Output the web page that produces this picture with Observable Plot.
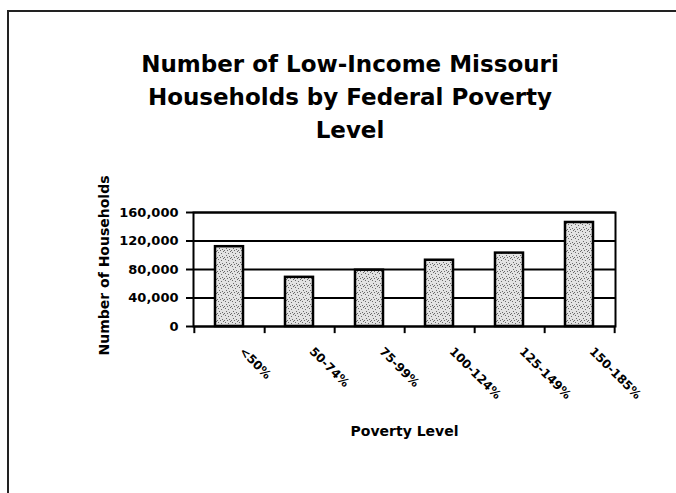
<!DOCTYPE html>
<html>
<head>
<meta charset="utf-8">
<script src="https://cdn.jsdelivr.net/npm/d3@7"></script>
<script src="https://cdn.jsdelivr.net/npm/@observablehq/plot@0.6"></script>
<style>
  html, body { margin: 0; padding: 0; background: #fff; }
  #wrap { position: relative; width: 676px; height: 493px; overflow: hidden; background: #fff; font-family: "DejaVu Sans", sans-serif; }
  #border { position: absolute; left: 7px; top: 10px; width: 700px; height: 500px; border-left: 2px solid #222; border-top: 2px solid #222; }
  #title { position: absolute; left: 0; top: 48px; width: 700px; text-align: center; font-weight: bold; font-size: 23px; line-height: 33px; color: #000; }
  #chart { position: absolute; left: 0; top: 160px; }
</style>
</head>
<body>
<div id="wrap">
  <div id="border"></div>
  <div id="title">Number of Low-Income Missouri<br>Households by Federal Poverty<br>Level</div>
  <div id="chart"></div>
</div>
<script>
const categories = ["<50%", "50-74%", "75-99%", "100-124%", "125-149%", "150-185%"];
const households = [112000, 69000, 79000, 93000, 103000, 146000];
const yTicks = [0, 40000, 80000, 120000, 160000];
const yLabel = "Number of Households";
const xLabel = "Poverty Level";

const data = categories.map((c, i) => ({category: c, value: households[i]}));

const W = 676, H = 300, mL = 193, mR = 61, mT = 52, mB = 134;
const half = (W - mL - mR) / categories.length / 2;

const plot = Plot.plot({
  width: W,
  height: H,
  marginLeft: mL,
  marginRight: mR,
  marginTop: mT,
  marginBottom: mB,
  style: {fontFamily: "DejaVu Sans", fontWeight: "bold", color: "#000", background: "transparent", overflow: "visible"},
  x: {domain: categories, paddingInner: 0.6, paddingOuter: 0.3, axis: null},
  y: {domain: [0, 160000], axis: null},
  marks: [
    Plot.ruleY(yTicks, {stroke: "#000", strokeWidth: 2}),
    Plot.frame({stroke: "#000", strokeWidth: 2}),
    Plot.ruleX(categories, {x: d => d, y1: 0, y2: -10000, dx: half, stroke: "#000", strokeWidth: 2}),
    Plot.ruleX([categories[0]], {x: d => d, y1: 0, y2: -10000, dx: -half, stroke: "#000", strokeWidth: 2}),
    Plot.axisY({ticks: yTicks, tickSize: 7, tickPadding: 8, tickFormat: d3.format(","), fontSize: 13, fontWeight: "bold", label: null, strokeWidth: 2, stroke: "#000"}),
    Plot.barY(data, {x: "category", y: "value", fill: "#d8d8d8", stroke: "#000", strokeWidth: 2.5}),
    Plot.text(categories, {x: d => d, frameAnchor: "bottom", rotate: 45, textAnchor: "start", lineAnchor: "middle", dx: 12, dy: 23, fontSize: 12, fontWeight: "bold", fill: "#000"}),
    Plot.text([yLabel], {frameAnchor: "left", rotate: -90, textAnchor: "middle", lineAnchor: "middle", dx: -89, dy: -4, fontSize: 14, fontWeight: "bold", fill: "#000"}),
    Plot.text([xLabel], {frameAnchor: "bottom", textAnchor: "middle", lineAnchor: "bottom", dy: 109, fontSize: 14, fontWeight: "bold", fill: "#000"})
  ]
});
document.getElementById("chart").appendChild(plot);

// stipple texture for bars
const svg = d3.select(plot);
const defs = svg.insert("defs", ":first-child");
const pat = defs.append("pattern").attr("id", "stipple").attr("width", 7).attr("height", 7).attr("patternUnits", "userSpaceOnUse");
pat.append("rect").attr("width", 7).attr("height", 7).attr("fill", "#e2e2e2");
[[1,1],[4,2],[2,4],[5,5],[6,0],[0,6],[3,6]].forEach(([x, y]) => pat.append("rect").attr("x", x).attr("y", y).attr("width", 1).attr("height", 1).attr("fill", "#6a6a6a"));
svg.selectAll('g[aria-label="bar"] rect').attr("fill", "url(#stipple)");
</script>
</body>
</html>
